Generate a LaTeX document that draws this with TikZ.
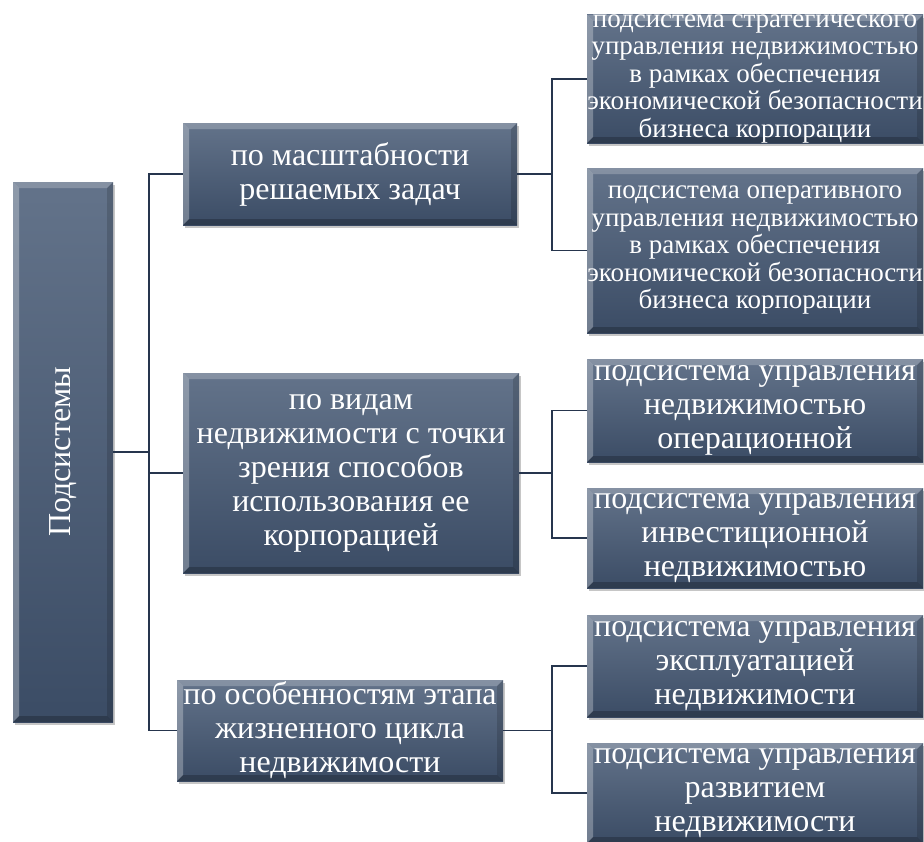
\documentclass[tikz,border=0pt]{standalone}
\usepackage{graphicx}
\usepackage{fontspec}
\setmainfont{Liberation Serif}
\usepackage{tikz}
\usetikzlibrary{shadows}
\definecolor{boxtop}{RGB}{99,115,138}
\definecolor{boxbot}{RGB}{59,76,101}
\definecolor{linecol}{RGB}{38,53,77}
\tikzstyle{bevel} = [path picture={
    \fill[white,opacity=.22] (path picture bounding box.north west) -- (path picture bounding box.north east)
        -- ([shift={(-6pt,-6pt)}]path picture bounding box.north east) -- ([shift={(6pt,-6pt)}]path picture bounding box.north west) -- cycle;
    \fill[white,opacity=.28] (path picture bounding box.north west) -- ([shift={(6pt,-6pt)}]path picture bounding box.north west)
        -- ([shift={(6pt,6pt)}]path picture bounding box.south west) -- (path picture bounding box.south west) -- cycle;
    \fill[black,opacity=.22] (path picture bounding box.south west) -- (path picture bounding box.south east)
        -- ([shift={(-6pt,6pt)}]path picture bounding box.south east) -- ([shift={(6pt,6pt)}]path picture bounding box.south west) -- cycle;
    \fill[black,opacity=.15] (path picture bounding box.north east) -- (path picture bounding box.south east)
        -- ([shift={(-6pt,6pt)}]path picture bounding box.south east) -- ([shift={(-6pt,-6pt)}]path picture bounding box.north east) -- cycle;}]
\tikzstyle{block} = [rectangle, top color=boxtop, bottom color=boxbot, bevel, inner sep=0pt,
    drop shadow={opacity=.45, shadow xshift=2pt, shadow yshift=-3pt},
    text=white, align=center, font=\fontsize{32}{34}\selectfont]
\tikzstyle{leaf} = [block, minimum width=336pt]
\tikzstyle{small} = [font=\fontsize{27}{27.5}\selectfont]
\tikzstyle{line} = [draw, color=linecol, line width=1.8pt]

\begin{document}
\begin{tikzpicture}[x=1pt, y=-1pt]
    \useasboundingbox (0,0) rectangle (924,841);
    % Place nodes
    \node [block, minimum width=100pt, minimum height=540pt] (root) at (63,452) {\rotatebox{90}{Подсистемы}};
    \node [block, minimum width=334pt, minimum height=102pt] (scale) at (350,174) {по масштабности\\решаемых задач};
    \node [block, minimum width=336pt, minimum height=200pt] (kinds) at (351,473) {по видам\\недвижимости с точки\\зрения способов\\использования ее\\корпорацией};
    \node [block, minimum width=326pt, minimum height=101pt] (cycle) at (340,730.5) {по особенностям этапа\\жизненного цикла\\недвижимости};
    \node [leaf, small, minimum height=128pt] (strat) at (755,79) {подсистема стратегического\\управления недвижимостью\\в рамках обеспечения\\экономической безопасности\\бизнеса корпорации};
    \node [leaf, small, minimum height=165pt] (oper) at (755,250.5) {подсистема оперативного\\управления недвижимостью\\в рамках обеспечения\\экономической безопасности\\бизнеса корпорации};
    \node [leaf, minimum height=103pt] (opreal) at (755,410.5) {подсистема управления\\недвижимостью\\операционной};
    \node [leaf, minimum height=100pt] (invest) at (755,538) {подсистема управления\\инвестиционной\\недвижимостью};
    \node [leaf, minimum height=102pt] (exploit) at (755,666) {подсистема управления\\эксплуатацией\\недвижимости};
    \node [leaf, minimum height=100pt] (develop) at (755,793) {подсистема управления\\развитием\\недвижимости};
    % Draw edges
    \path [line] (root.east) -- ++(36,0) coordinate (trunk);
    \path [line] (scale.west) -| (trunk);
    \path [line] (cycle.west) -| (trunk);
    \path [line] (kinds.west) -- (kinds.west -| trunk);
    \path [line] (scale.east) -- ++(35,0) coordinate (fork1);
    \path [line] (strat.west) -| (fork1) |- (oper.west);
    \path [line] (kinds.east) -- ++(33,0) coordinate (fork2);
    \path [line] (opreal.west) -| (fork2) |- (invest.west);
    \path [line] (cycle.east) -- ++(49,0) coordinate (fork3);
    \path [line] (exploit.west) -| (fork3) |- (develop.west);
\end{tikzpicture}
\end{document}
